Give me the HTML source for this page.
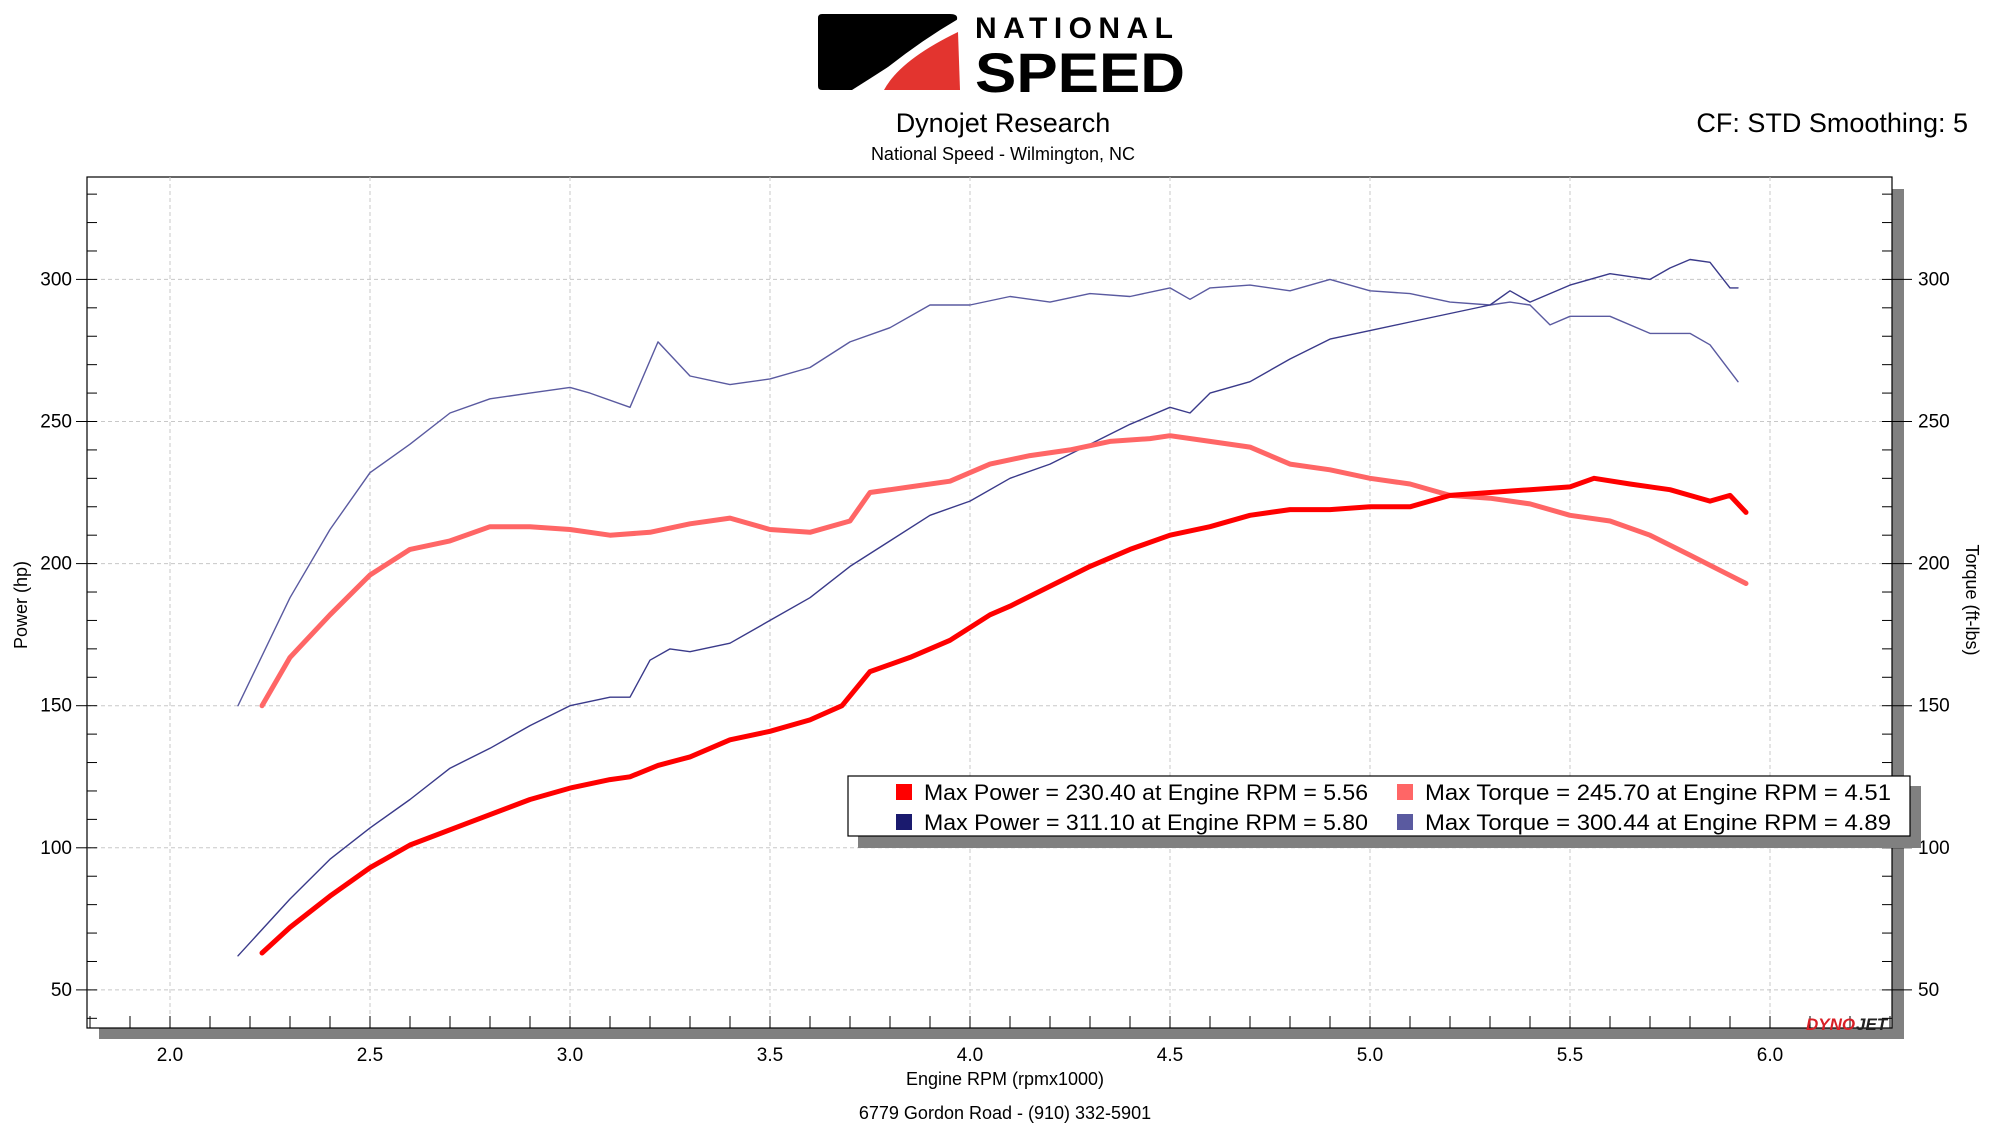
<!DOCTYPE html>
<html><head><meta charset="utf-8"><style>
html,body{margin:0;padding:0;background:#fff;}
body{width:2000px;height:1125px;overflow:hidden;font-family:"DejaVu Sans","Liberation Sans",sans-serif;}
</style></head><body>
<svg id="chart" width="2000" height="1125" xmlns="http://www.w3.org/2000/svg" font-family="'Liberation Sans', sans-serif">
<g>
  <path d="M822,14 L950,14 Q960,14 956,22 Q900,60 852,90 L822,90 Q818,90 818,86 L818,18 Q818,14 822,14 Z" fill="#000"/>
  <path d="M958,32 L960,90 L884,90 Q900,60 958,32 Z" fill="#e3342f"/>
  <path d="M862,92 Q910,50 958,22" stroke="#fff" stroke-width="5" fill="none"/>
  <text x="975" y="38" font-size="30" font-weight="bold" letter-spacing="10" fill="#000" textLength="208">NATIONAL</text>
  <text x="975" y="92" font-size="56" font-weight="bold" fill="#000" textLength="210" lengthAdjust="spacingAndGlyphs">SPEED</text>
</g>
<text x="1003" y="132" font-size="27" text-anchor="middle">Dynojet Research</text>
<text x="1003" y="160" font-size="18" text-anchor="middle">National Speed - Wilmington, NC</text>
<text x="1968" y="132" font-size="27" text-anchor="end">CF: STD Smoothing: 5</text>
<g id="plot"></g>
<text x="1005" y="1085" font-size="18" text-anchor="middle">Engine RPM (rpmx1000)</text>
<text x="1005" y="1119" font-size="18" text-anchor="middle">6779 Gordon Road - (910) 332-5901</text>
<text transform="translate(27,605) rotate(-90)" font-size="18" text-anchor="middle">Power (hp)</text>
<text transform="translate(1966,600) rotate(90)" font-size="18" text-anchor="middle">Torque (ft-lbs)</text>
</svg>
<script>
const pwrRpm=[2.23,2.3,2.4,2.5,2.6,2.75,2.9,3.0,3.1,3.15,3.22,3.3,3.4,3.5,3.6,3.68,3.75,3.85,3.95,4.05,4.1,4.2,4.3,4.4,4.5,4.6,4.7,4.8,4.9,5.0,5.1,5.2,5.3,5.4,5.5,5.56,5.65,5.75,5.85,5.9,5.94];
const pwrVal=[63,72,83,93,101,109,117,121,124,125,129,132,138,141,145,150,162,167,173,182,185,192,199,205,210,213,217,219,219,220,220,224,225,226,227,230,228,226,222,224,218];
const tqRpm=[2.23,2.3,2.4,2.5,2.6,2.7,2.8,2.9,3.0,3.1,3.2,3.3,3.4,3.5,3.6,3.7,3.75,3.85,3.95,4.05,4.15,4.25,4.35,4.45,4.5,4.6,4.7,4.8,4.9,5.0,5.1,5.2,5.3,5.4,5.5,5.6,5.7,5.8,5.87,5.94];
const tqVal=[150,167,182,196,205,208,213,213,212,210,211,214,216,212,211,215,225,227,229,235,238,240,243,244,245,243,241,235,233,230,228,224,223,221,217,215,210,203,198,193];
const pwr2Rpm=[2.17,2.3,2.4,2.5,2.6,2.7,2.8,2.9,3.0,3.1,3.15,3.2,3.25,3.3,3.4,3.5,3.6,3.7,3.8,3.9,4.0,4.1,4.2,4.3,4.4,4.5,4.55,4.6,4.7,4.8,4.9,5.0,5.1,5.2,5.3,5.35,5.4,5.5,5.6,5.7,5.75,5.8,5.85,5.9,5.92];
const pwr2Val=[62,82,96,107,117,128,135,143,150,153,153,166,170,169,172,180,188,199,208,217,222,230,235,242,249,255,253,260,264,272,279,282,285,288,291,296,292,298,302,300,304,307,306,297,297];
const tq2Rpm=[2.17,2.3,2.4,2.5,2.6,2.7,2.8,2.9,3.0,3.05,3.15,3.22,3.3,3.4,3.5,3.6,3.7,3.8,3.9,4.0,4.1,4.2,4.3,4.4,4.5,4.55,4.6,4.7,4.8,4.9,5.0,5.1,5.2,5.3,5.35,5.4,5.45,5.5,5.6,5.7,5.8,5.85,5.92];
const tq2Val=[150,188,212,232,242,253,258,260,262,260,255,278,266,263,265,269,278,283,291,291,294,292,295,294,297,293,297,298,296,300,296,295,292,291,292,291,284,287,287,281,281,277,264];
const xTicks=["2.0","2.5","3.0","3.5","4.0","4.5","5.0","5.5","6.0"];
const yTicks=["50","100","150","200","250","300"];
const legendItems=[["Max Power = 230.40 at Engine RPM = 5.56","#ff0000"],["Max Torque = 245.70 at Engine RPM = 4.51","#ff6666"],["Max Power = 311.10 at Engine RPM = 5.80","#1a1a6e"],["Max Torque = 300.44 at Engine RPM = 4.89","#5a5aa0"]];

const NS="http://www.w3.org/2000/svg";
const L=87,R=1892,T=177,B=1028;
const xs=r=>170+(r-2)*400;
const ys=v=>279.4+(300-v)*2.842;
const g=document.getElementById('plot');
function mk(t,a,p){const e=document.createElementNS(NS,t);for(const k in a)e.setAttribute(k,a[k]);(p||g).appendChild(e);return e;}
let s1=mk('rect',{x:1892,y:189,width:12,height:850,fill:'#808080'});


let s2=mk('rect',{x:99,y:1028,width:1805,height:11,fill:'#808080'});


let bg=mk('rect',{x:L,y:T,width:R-L,height:B-T,fill:'#fff',stroke:'#000','stroke-width':1.2});


xTicks.forEach(t=>{const x=xs(+t);
 const l=mk('line',{x1:x,x2:x,y1:T,y2:B,stroke:'#c8c8c8','stroke-dasharray':'4,3'});
 
 
 const tx=mk('text',{x:x,y:1061,'font-size':19,'text-anchor':'middle'});tx.textContent=t;
 
 
});
for(let r=1.8;r<=6.3;r+=0.1){const x=xs(r);if(x<L+2||x>R)continue;mk('line',{x1:x,x2:x,y1:B,y2:B-12,stroke:'#000'});}
yTicks.forEach(t=>{const y=ys(+t);
 const l=mk('line',{x1:L,x2:R,y1:y,y2:y,stroke:'#c8c8c8','stroke-dasharray':'4,3'});
 
 
 mk('line',{x1:76,x2:L,y1:y,y2:y,stroke:'#000'});
 mk('line',{x1:R,x2:1912,y1:y,y2:y,stroke:'#000'});
 const a=mk('text',{x:72,y:y+6,'font-size':19,'text-anchor':'end'});a.textContent=t;
 
 
 const b=mk('text',{x:1918,y:y+6,'font-size':19});b.textContent=t;
 
 
});
for(let v=40;v<=330;v+=10){const y=ys(v);if(y<T||y>B)continue;mk('line',{x1:L,x2:L+10,y1:y,y2:y,stroke:'#000'});mk('line',{x1:R-10,x2:R,y1:y,y2:y,stroke:'#000'});}
function line(rx,vy,col,w,name){const d=rx.map((r,i)=>(i?'L':'M')+xs(r).toFixed(1)+','+ys(vy[i]).toFixed(1)).join('');
 const p=mk('path',{d:d,fill:'none',stroke:col,'stroke-width':w,'stroke-linejoin':'round','stroke-linecap':'round'});
 
 }
line(tq2Rpm,tq2Val,'#5a5aa0',1.4,'torque-run2-line');
line(pwr2Rpm,pwr2Val,'#3a3a8a',1.4,'power-run2-line');
line(tqRpm,tqVal,'#ff6666',5,'torque-run1-line');
line(pwrRpm,pwrVal,'#ff0000',5,'power-run1-line');
const dj=mk('text',{x:1806,y:1030,'font-size':17,'font-weight':'bold','font-style':'italic',fill:'#d81f26'});dj.textContent='DYNO';


const dj2=mk('text',{x:1856,y:1030,'font-size':17,'font-weight':'bold','font-style':'italic',fill:'#222'});dj2.textContent='JET';


const lg=mk('g',{});


mk('rect',{x:858,y:786,width:1063,height:62,fill:'#808080'},lg);
mk('rect',{x:848,y:776,width:1062,height:60,fill:'#fff',stroke:'#000','stroke-width':1.2},lg);
legendItems.forEach((it,i)=>{const col=i%2,row=Math.floor(i/2);
 const mx=col?1397:896,cy=row?822:792;
 const e=mk('g',{},lg);
 
 
 mk('rect',{x:mx,y:cy-8,width:16,height:16,fill:it[1]},e);
 const t=mk('text',{x:mx+28,y:cy+8,'font-size':22,textLength:col?466:444,lengthAdjust:'spacingAndGlyphs'},e);t.textContent=it[0];
});
</script>
</body></html>
